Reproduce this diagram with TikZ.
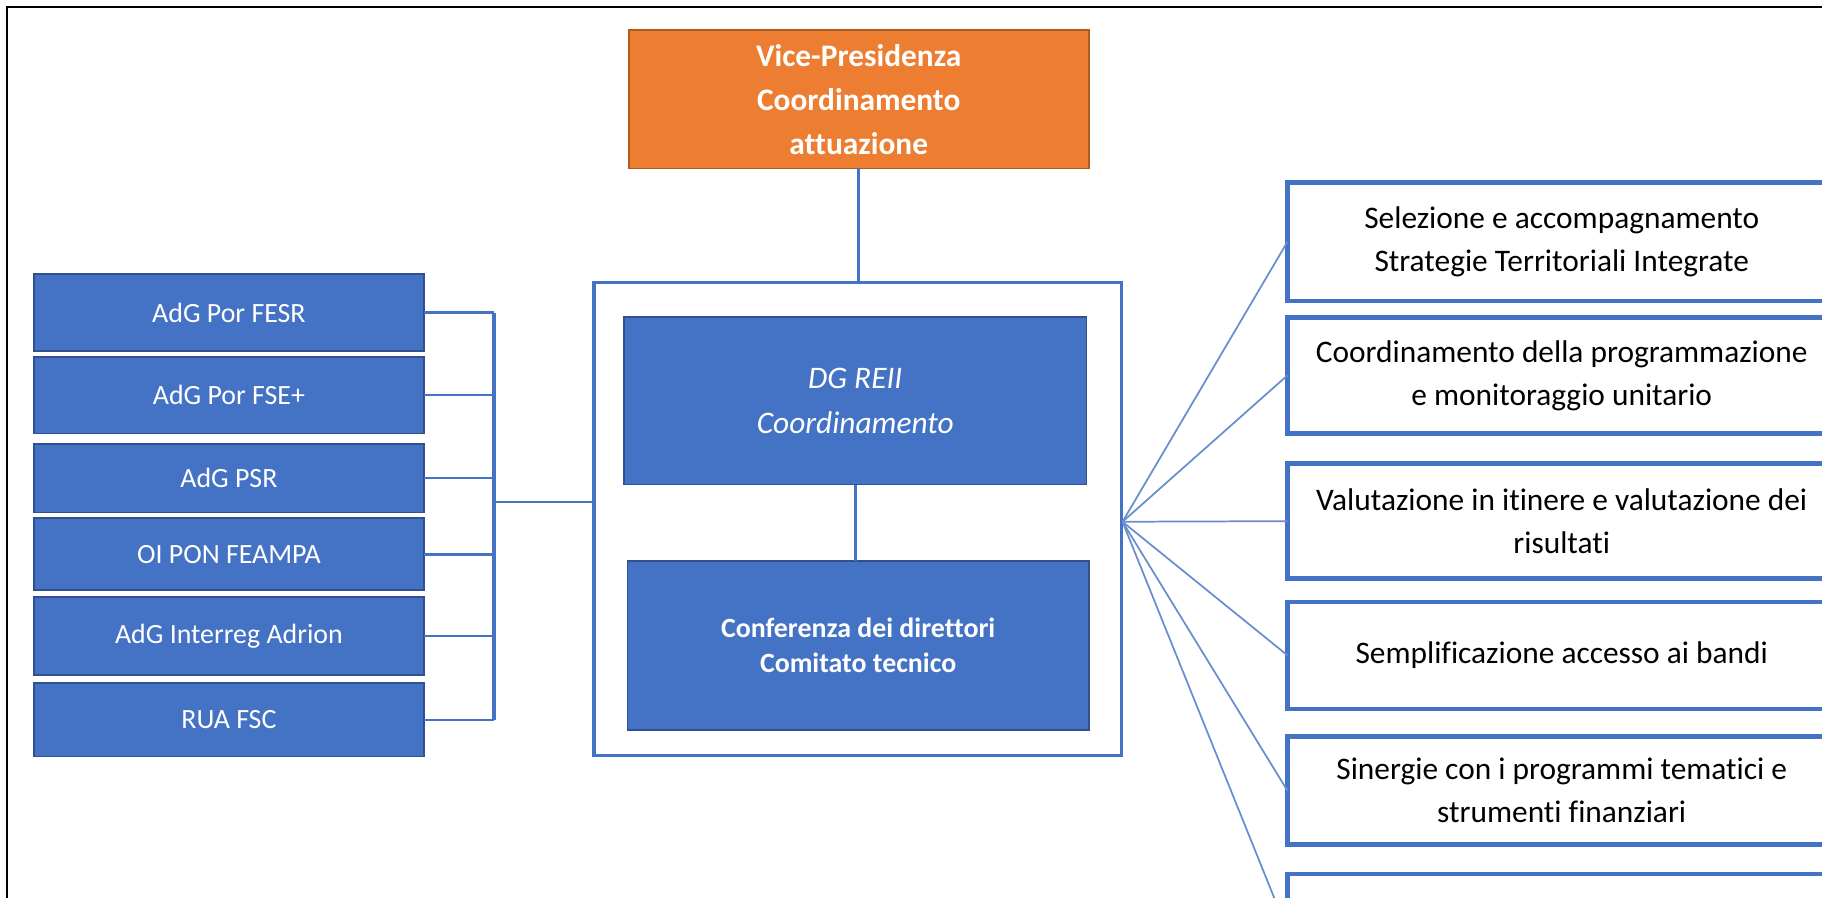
\documentclass[tikz,border=0pt]{standalone}
\usepackage{fontspec}
\setmainfont{Carlito}[Ligatures=NoCommon]
\definecolor{accblue}{HTML}{4472C4}
\definecolor{darkblue}{HTML}{2F528F}
\definecolor{accorange}{HTML}{ED7D31}
\definecolor{darkorange}{HTML}{AE5A21}
\begin{document}
\begin{tikzpicture}[x=1pt,y=-1pt,
  box/.style={rectangle, inner sep=0pt, outer sep=0pt, align=center},
  bluebox/.style={box, fill=accblue, draw=darkblue, line width=1.5pt, text=white},
  leftbox/.style={bluebox, minimum width=336pt, font=\fontsize{24}{30}\selectfont},
  rightbox/.style={box, draw=accblue, line width=4pt, fill=white, minimum width=472pt, font=\fontsize{27}{37}\selectfont},
  conn/.style={draw=accblue, line width=2.2pt},
  fanline/.style={draw=accblue!80!white, line width=1.5pt},
]
\useasboundingbox (0,0) rectangle (1568,772);
\clip (0,0) rectangle (1568,772);
\fill[white] (0,0) rectangle (1568,772);
% frame
\draw[black, line width=2.4pt] (6,790) -- (6,6) -- (1580,6);

% top node
\node[box, fill=accorange, draw=darkorange, line width=1.5pt, text=white,
  minimum width=396pt, minimum height=119pt,
  font=\bfseries\fontsize{27}{38}\selectfont] (vp) at (739,85.5)
  {Vice-Presidenza\\Coordinamento\\attuazione};

% container
\node[box, draw=accblue, line width=3pt, minimum width=454pt, minimum height=407pt] (cont) at (738,446.5) {};

\node[bluebox, minimum width=398pt, minimum height=144pt,
  font=\itshape\fontsize{27}{39}\selectfont] (dg) at (736,345) {DG REII\\Coordinamento};
\node[bluebox, minimum width=397pt, minimum height=145pt,
  font=\bfseries\fontsize{24}{30}\selectfont] (cf) at (738.5,555.5) {Conferenza dei direttori\\Comitato tecnico};

% left boxes
\node[leftbox, minimum height=66pt] (l1) at (197,269) {AdG Por FESR};
\node[leftbox, minimum height=66pt] (l2) at (197,340) {AdG Por FSE+};
\node[leftbox, minimum height=59pt] (l3) at (197,411.5) {AdG PSR};
\node[leftbox, minimum height=62pt] (l4) at (197,477) {OI PON FEAMPA};
\node[leftbox, minimum height=67pt] (l5) at (197,547.5) {AdG Interreg Adrion};
\node[leftbox, minimum height=63pt] (l6) at (197,619.5) {RUA FSC};

% right boxes
\node[rightbox, minimum height=102pt] (r1) at (1344,208) {Selezione e accompagnamento\\Strategie Territoriali Integrate};
\node[rightbox, minimum height=100pt] (r2) at (1344,323) {Coordinamento della programmazione\\e monitoraggio unitario};
\node[rightbox, minimum height=99pt] (r3) at (1344,448.5) {Valutazione in itinere e valutazione dei\\risultati};
\node[rightbox, minimum height=92pt] (r4) at (1344,564) {Semplificazione accesso ai bandi};
\node[rightbox, minimum height=93pt] (r5) at (1344,680.5) {Sinergie con i programmi tematici e\\strumenti finanziari};
\node[rightbox, minimum height=98pt] (r6) at (1344,801) {};

% vertical connectors
\draw[conn] (vp.south) -- (vp.south |- cont.north);
\draw[conn] (dg.south) -- (dg.south |- cf.north);

% left bracket
\coordinate (brk) at (425,432);
\coordinate (cw) at (cont.west |- brk);
\foreach \i in {1,...,6} \draw[conn] (l\i.east) -- (l\i.east -| brk);
\draw[draw=accblue, line width=3.6pt] (l1.east -| brk) -- (l6.east -| brk);
\draw[conn] (brk) -- (cw);

% fan
\coordinate (fan) at (966,449);
\foreach \i in {1,...,6} \draw[fanline] (fan) -- (r\i.west);
\end{tikzpicture}
\end{document}
